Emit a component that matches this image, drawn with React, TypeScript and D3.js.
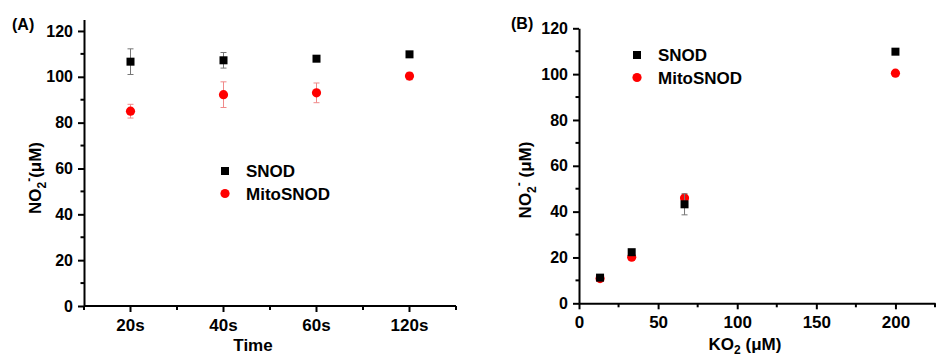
import { useRef, useEffect } from 'react';
import * as d3 from 'd3';

// panel A: nitrite vs reaction time
const timeCats = ['20s', '40s', '60s', '120s'];
const snodTime = [106.6, 107.2, 107.9, 109.8];
const snodTimeErr = [5.6, 3.4, 1.0, 0.8];
const mitoTime = [85.0, 92.2, 93.0, 100.3];
const mitoTimeErr = [3.0, 5.6, 4.3, 1.6];

// panel B: nitrite vs KO2 concentration
const ko2Conc = [13.3, 33.3, 66.7, 200];
const snodKo2 = [11.2, 22.3, 43.2, 109.8];
const snodKo2Err = [1.0, 1.0, 4.6, 0.8];
const mitoKo2 = [10.8, 20.1, 46.0, 100.4];
const mitoKo2Err = [0.8, 0.8, 1.0, 0.8];

const yMajor = [0, 20, 40, 60, 80, 100, 120];
const yMinor = [10, 30, 50, 70, 90, 110];
const ko2Major = [0, 50, 100, 150, 200];
const ko2Minor = [25, 75, 125, 175, 225];

const legendNames = ['SNOD', 'MitoSNOD'];

const FONT = '"Liberation Sans", Arial, sans-serif';
const RED = '#ff0000';

const W = 947;
const H = 356;

export default function App() {
  const svgRef = useRef<SVGSVGElement>(null);

  function styleAxis(g: any, size = 16) {
    g.selectAll('path, line').attr('stroke', '#000').attr('stroke-width', 2);
    g.selectAll('text')
      .attr('font-family', FONT)
      .attr('font-weight', 'bold')
      .attr('font-size', size)
      .attr('fill', '#000');
  }

  function drawYAxis(svg: any, y: any, x0: number) {
    const g = svg.append('g').attr('transform', `translate(${x0},0)`);
    g.call(d3.axisLeft(y).tickValues(yMajor).tickSize(6).tickSizeOuter(0).tickPadding(5).tickFormat(d3.format('d')));
    g.append('g').selectAll('line')
      .data(yMinor)
      .join('line')
      .attr('x1', 0).attr('x2', -3.5)
      .attr('y1', (d: number) => y(d)).attr('y2', (d: number) => y(d));
    styleAxis(g);
  }

  function drawSeries(svg: any, xs: number[], ys: number[], errs: number[], y: any, kind: string) {
    const g = svg.append('g');
    const pts = xs.map((x, i) => ({ x, v: ys[i], e: errs[i] }));
    const errColor = kind === 'square' ? '#777' : '#f08a8a';
    const eb = g.selectAll('g.eb').data(pts).join('g');
    eb.append('line')
      .attr('x1', (d: any) => d.x).attr('x2', (d: any) => d.x)
      .attr('y1', (d: any) => y(d.v - d.e)).attr('y2', (d: any) => y(d.v + d.e))
      .attr('stroke', errColor).attr('stroke-width', 1);
    [1, -1].forEach((s) => {
      eb.append('line')
        .attr('x1', (d: any) => d.x - 3).attr('x2', (d: any) => d.x + 3)
        .attr('y1', (d: any) => y(d.v + s * d.e)).attr('y2', (d: any) => y(d.v + s * d.e))
        .attr('stroke', errColor).attr('stroke-width', 1);
    });
    if (kind === 'square') {
      g.selectAll('rect').data(pts).join('rect')
        .attr('x', (d: any) => d.x - 4).attr('y', (d: any) => y(d.v) - 4)
        .attr('width', 8).attr('height', 8).attr('fill', '#000');
    } else {
      g.selectAll('circle').data(pts).join('circle')
        .attr('cx', (d: any) => d.x).attr('cy', (d: any) => y(d.v))
        .attr('r', 4.6).attr('fill', RED);
    }
  }

  function drawLegend(svg: any, x: number, y: number) {
    const g = svg.append('g').attr('transform', `translate(${x},${y})`);
    g.append('rect').attr('x', -4).attr('y', -4).attr('width', 8).attr('height', 8).attr('fill', '#000');
    g.append('circle').attr('cx', 0).attr('cy', 22.5).attr('r', 4.6).attr('fill', RED);
    g.selectAll('text').data(legendNames).join('text')
      .attr('x', 21)
      .attr('y', (d: string, i: number) => i * 22.5 + 6)
      .attr('font-family', FONT).attr('font-weight', 'bold').attr('font-size', 17)
      .text((d: string) => d);
  }

  function drawYLabel(svg: any, x: number, y: number, space: boolean) {
    const t = svg.append('text')
      .attr('transform', `translate(${x},${y}) rotate(-90)`)
      .attr('text-anchor', 'middle')
      .attr('font-family', FONT).attr('font-weight', 'bold').attr('font-size', 17);
    t.append('tspan').text('NO');
    t.append('tspan').attr('dy', 5).attr('font-size', 12).text('2');
    t.append('tspan').attr('dy', -13).attr('font-size', 12).text('-');
    t.append('tspan').attr('dy', 8).text(space ? ' (μM)' : '(μM)');
  }

  function renderChart() {
    const svg = d3.select(svgRef.current);
    svg.selectAll('*').remove();
    svg.append('rect').attr('width', W).attr('height', H).attr('fill', '#fff');

    // ---------- panel A ----------
    const xA = d3.scaleBand().domain(timeCats).range([84, 456]).padding(0);
    const yA = d3.scaleLinear().domain([0, 125]).range([306, 19.5]);
    const cx = (c: string) => (xA(c) as number) + xA.bandwidth() / 2;

    drawYAxis(svg, yA, 84);

    const gxA = svg.append('g').attr('transform', `translate(0,306)`);
    gxA.append('line').attr('x1', 84).attr('x2', 456).attr('y1', 0).attr('y2', 0);
    gxA.selectAll('line.maj').data(timeCats).join('line').attr('class', 'maj')
      .attr('x1', (d: string) => cx(d)).attr('x2', (d: string) => cx(d))
      .attr('y1', 0).attr('y2', 6);
    gxA.selectAll('line.min').data(timeCats).join('line').attr('class', 'min')
      .attr('x1', (d: string) => (xA(d) as number) + xA.bandwidth())
      .attr('x2', (d: string) => (xA(d) as number) + xA.bandwidth())
      .attr('y1', 0).attr('y2', 4);
    gxA.append('line').attr('x1', 84).attr('x2', 84).attr('y1', 0).attr('y2', 4);
    gxA.selectAll('text').data(timeCats).join('text')
      .attr('x', (d: string) => cx(d)).attr('y', 25)
      .attr('text-anchor', 'middle')
      .text((d: string) => d);
    styleAxis(gxA, 17);

    const xsA = timeCats.map(cx);
    drawSeries(svg, xsA, mitoTime, mitoTimeErr, yA, 'circle');
    drawSeries(svg, xsA, snodTime, snodTimeErr, yA, 'square');
    drawLegend(svg, 225, 171);

    svg.append('text').attr('x', 12).attr('y', 30)
      .attr('font-family', FONT).attr('font-weight', 'bold').attr('font-size', 16).text('(A)');
    drawYLabel(svg, 41, 178, false);
    svg.append('text').attr('x', 253).attr('y', 351).attr('text-anchor', 'middle')
      .attr('font-family', FONT).attr('font-weight', 'bold').attr('font-size', 17).text('Time');

    // ---------- panel B ----------
    const xB = d3.scaleLinear().domain([0, 225]).range([579, 935]);
    const yB = d3.scaleLinear().domain([0, 120]).range([303.3, 28.3]);

    drawYAxis(svg, yB, 579);

    const gxB = svg.append('g').attr('transform', `translate(0,303.3)`);
    gxB.call(d3.axisBottom(xB).tickValues(ko2Major).tickSize(6).tickSizeOuter(0).tickPadding(7).tickFormat(d3.format('d')));
    gxB.append('g').selectAll('line').data(ko2Minor).join('line')
      .attr('x1', (d: number) => xB(d)).attr('x2', (d: number) => xB(d))
      .attr('y1', 0).attr('y2', 4);
    styleAxis(gxB, 17);

    const xsB = ko2Conc.map((d) => xB(d));
    drawSeries(svg, xsB, mitoKo2, mitoKo2Err, yB, 'circle');
    drawSeries(svg, xsB, snodKo2, snodKo2Err, yB, 'square');
    drawLegend(svg, 637, 55);

    svg.append('text').attr('x', 511).attr('y', 29)
      .attr('font-family', FONT).attr('font-weight', 'bold').attr('font-size', 16).text('(B)');
    drawYLabel(svg, 531, 180, true);
    const kt = svg.append('text').attr('x', 745).attr('y', 350).attr('text-anchor', 'middle')
      .attr('font-family', FONT).attr('font-weight', 'bold').attr('font-size', 17);
    kt.append('tspan').text('KO');
    kt.append('tspan').attr('dy', 4).attr('font-size', 12).text('2');
    kt.append('tspan').attr('dy', -4).text(' (μM)');
  }

  useEffect(() => {
    renderChart();
  }, []);

  return (
    <div style={{ position: 'absolute', left: 0, top: 0 }}>
      <svg ref={svgRef} width={W} height={H} style={{ display: 'block' }} />
    </div>
  );
}
